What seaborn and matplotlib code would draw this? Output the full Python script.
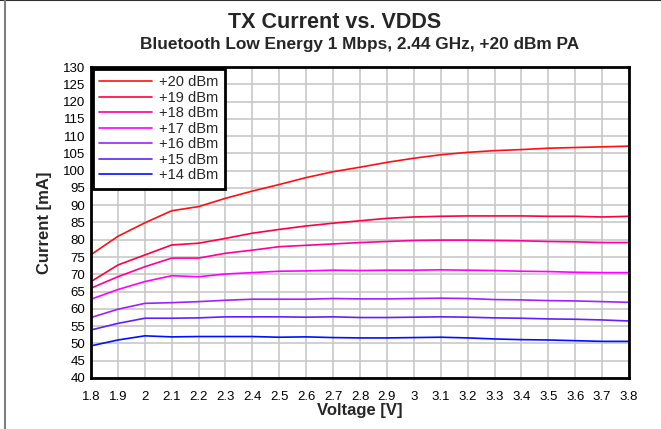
import pandas as pd
import matplotlib
matplotlib.use("Agg")
import matplotlib.pyplot as plt
import seaborn as sns

# ==================================================
# DATA
# ==================================================

voltage = [1.8, 1.9, 2.0, 2.1, 2.2, 2.3, 2.4, 2.5, 2.6, 2.7, 2.8,
           2.9, 3.0, 3.1, 3.2, 3.3, 3.4, 3.5, 3.6, 3.7, 3.8]

pa_20 = [75.7, 81.0, 84.9, 88.4, 89.6, 92.0, 94.1, 96.0, 98.0, 99.7, 101.0,
         102.4, 103.6, 104.6, 105.3, 105.8, 106.1, 106.5, 106.7, 106.9, 107.1]
pa_19 = [67.9, 72.7, 75.6, 78.5, 79.0, 80.4, 81.9, 83.0, 84.0, 84.8, 85.5,
         86.2, 86.6, 86.8, 86.9, 86.9, 86.9, 86.8, 86.8, 86.6, 86.8]
pa_18 = [66.0, 69.3, 72.2, 74.7, 74.7, 76.1, 77.0, 78.0, 78.4, 78.8, 79.2,
         79.5, 79.8, 79.9, 79.9, 79.8, 79.7, 79.5, 79.4, 79.2, 79.2]
pa_17 = [62.8, 65.6, 67.9, 69.6, 69.3, 70.1, 70.5, 70.9, 71.0, 71.2, 71.1,
         71.2, 71.2, 71.3, 71.2, 71.1, 70.9, 70.8, 70.6, 70.5, 70.5]
pa_16 = [57.5, 59.9, 61.6, 61.8, 62.1, 62.5, 62.8, 62.8, 62.8, 63.0, 62.9,
         62.9, 63.0, 63.1, 63.0, 62.7, 62.6, 62.4, 62.3, 62.1, 61.9]
pa_15 = [53.9, 55.8, 57.3, 57.3, 57.4, 57.7, 57.7, 57.7, 57.6, 57.7, 57.5,
         57.5, 57.6, 57.7, 57.6, 57.4, 57.3, 57.1, 57.0, 56.8, 56.5]
pa_14 = [49.3, 51.0, 52.2, 51.9, 52.0, 52.0, 52.0, 51.8, 51.9, 51.7, 51.6,
         51.6, 51.7, 51.8, 51.6, 51.3, 51.1, 51.0, 50.8, 50.6, 50.6]

series_names = ["+20 dBm", "+19 dBm", "+18 dBm", "+17 dBm",
                "+16 dBm", "+15 dBm", "+14 dBm"]
series_values = [pa_20, pa_19, pa_18, pa_17, pa_16, pa_15, pa_14]
series_colors = ["#FF1010", "#FF0040", "#FF0098", "#FF00FF",
                 "#A020FF", "#6020FF", "#0010FF"]

x_ticks = [1.8, 1.9, 2.0, 2.1, 2.2, 2.3, 2.4, 2.5, 2.6, 2.7, 2.8,
           2.9, 3.0, 3.1, 3.2, 3.3, 3.4, 3.5, 3.6, 3.7, 3.8]
x_tick_labels = ["1.8", "1.9", "2", "2.1", "2.2", "2.3", "2.4", "2.5",
                 "2.6", "2.7", "2.8", "2.9", "3", "3.1", "3.2", "3.3",
                 "3.4", "3.5", "3.6", "3.7", "3.8"]
y_ticks = list(range(40, 131, 5))

# ==================================================
# LONG FORM TABLE
# ==================================================

rows = []
for name, values in zip(series_names, series_values):
    for v, c in zip(voltage, values):
        rows.append({"Voltage": v, "Current": c, "Power": name})
df = pd.DataFrame(rows)

# ==================================================
# PLOT
# ==================================================

sns.set_style("white")
plt.rcParams["font.family"] = ["Liberation Sans", "DejaVu Sans"]

fig = plt.figure(figsize=(6.61, 4.29), dpi=100)
ax = fig.add_axes([91 / 661, 51 / 429, 538 / 661, 311 / 429])

sns.lineplot(
    data=df,
    x="Voltage",
    y="Current",
    hue="Power",
    hue_order=series_names,
    palette=series_colors,
    linewidth=1.2,
    ax=ax,
)

ax.set_xlim(1.8, 3.8)
ax.set_ylim(40, 130)
ax.set_xticks(x_ticks)
ax.set_xticklabels(x_tick_labels)
ax.set_yticks(y_ticks)
ax.tick_params(axis="both", length=0, labelsize=9.5, colors="black")
ax.tick_params(axis="x", pad=9)
ax.tick_params(axis="y", pad=4)

ax.grid(True, color="#C8C8C8", linewidth=1.2)
ax.set_axisbelow(True)
for spine in ax.spines.values():
    spine.set_visible(True)
    spine.set_color("black")
    spine.set_linewidth(2)

ax.set_xlabel("Voltage [V]", fontsize=12, fontweight="bold", labelpad=0)
ax.set_ylabel("Current [mA]", fontsize=12, fontweight="bold", labelpad=8)

leg = ax.legend(
    loc="upper left",
    bbox_to_anchor=(0.0, 1.0),
    fontsize=10.5,
    frameon=True,
    fancybox=False,
    framealpha=1,
    edgecolor="black",
    handlelength=3.6,
    handletextpad=0.5,
    labelspacing=0.1,
    borderpad=0.45,
    borderaxespad=0.12,
)
leg.get_frame().set_linewidth(2)

fig.text(335 / 661, 1 - 28.3 / 429, "TX Current vs. VDDS",
         ha="center", va="baseline", fontsize=15.5, fontweight="bold")
fig.text(360 / 661, 1 - 49.3 / 429,
         "Bluetooth Low Energy 1 Mbps, 2.44 GHz, +20 dBm PA",
         ha="center", va="baseline", fontsize=12.4, fontweight="bold")

# figure border lines (top and left)
fig.add_artist(plt.Line2D([0, 1], [0.999, 0.999], transform=fig.transFigure,
                          color="#303030", linewidth=1.5))
fig.add_artist(plt.Line2D([5 / 661, 5 / 661], [0, 1], transform=fig.transFigure,
                          color="#808080", linewidth=1.5))

fig.savefig("out.png", dpi=100)
plt.close(fig)
